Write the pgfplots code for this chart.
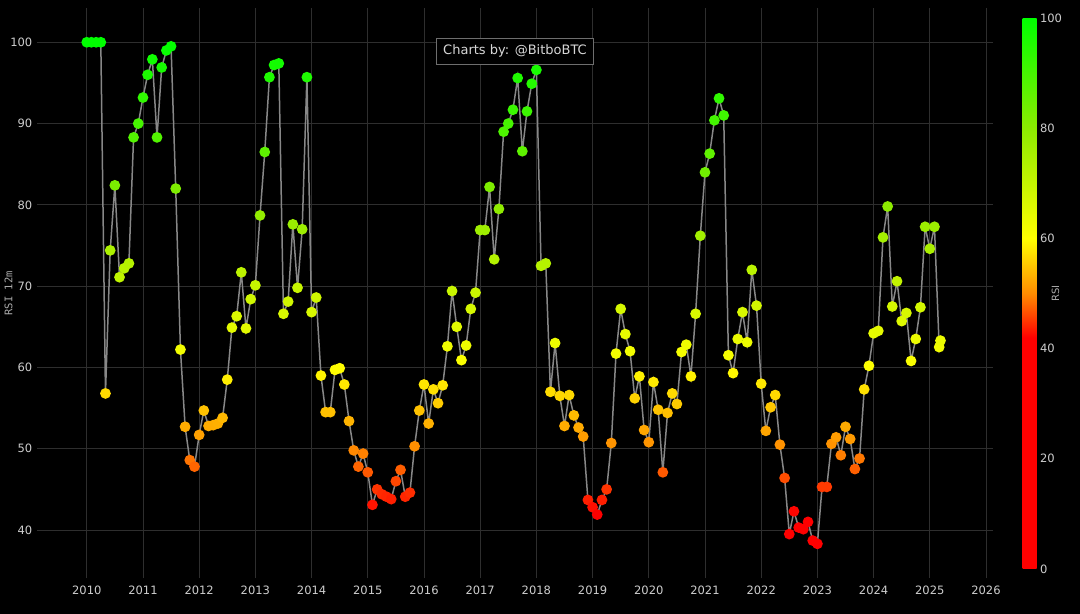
\documentclass[border=0pt]{standalone}
\usepackage{fontspec}
\setmainfont{DejaVu Sans}
\newfontfamily\monofont{DejaVu Sans Mono}
\usepackage{pgfplots}
\usepackage{pgfplotstable}
\pgfplotsset{compat=1.18}
\definecolor{gridc}{RGB}{46,46,46}
\definecolor{tickc}{RGB}{205,205,205}
\definecolor{linec}{RGB}{135,135,135}
\definecolor{boxc}{RGB}{110,110,110}
\definecolor{titc}{RGB}{215,215,215}
\definecolor{ylabc}{RGB}{170,170,170}
\definecolor{baseline}{RGB}{95,95,95}
\pgfplotsset{colormap={rsi}{rgb255(0)=(255,0,0) rgb255(42)=(255,0,0) rgb255(50)=(255,140,0) rgb255(60)=(255,255,0) rgb255(80)=(140,235,0) rgb255(100)=(0,255,0)}}
\pgfplotsset{/pgf/number format/assume math mode=true}
\pgfplotstableread{
x y
2010.000 100.0
2010.083 100.0
2010.167 100.0
2010.250 100.0
2010.333 56.8
2010.417 74.4
2010.500 82.4
2010.583 71.1
2010.667 72.2
2010.750 72.8
2010.833 88.3
2010.917 90.0
2011.000 93.2
2011.083 96.0
2011.167 97.9
2011.250 88.3
2011.333 96.9
2011.417 99.0
2011.500 99.5
2011.583 82.0
2011.667 62.2
2011.750 52.7
2011.833 48.6
2011.917 47.8
2012.000 51.7
2012.083 54.7
2012.167 52.8
2012.250 52.9
2012.333 53.1
2012.417 53.8
2012.500 58.5
2012.583 64.9
2012.667 66.3
2012.750 71.7
2012.833 64.8
2012.917 68.4
2013.000 70.1
2013.083 78.7
2013.167 86.5
2013.250 95.7
2013.333 97.2
2013.417 97.4
2013.500 66.6
2013.583 68.1
2013.667 77.6
2013.750 69.8
2013.833 77.0
2013.917 95.7
2014.000 66.8
2014.083 68.6
2014.167 59.0
2014.250 54.5
2014.333 54.5
2014.417 59.7
2014.500 59.9
2014.583 57.9
2014.667 53.4
2014.750 49.8
2014.833 47.8
2014.917 49.4
2015.000 47.1
2015.083 43.1
2015.167 45.0
2015.250 44.4
2015.333 44.1
2015.417 43.8
2015.500 46.0
2015.583 47.4
2015.667 44.1
2015.750 44.6
2015.833 50.3
2015.917 54.7
2016.000 57.9
2016.083 53.1
2016.167 57.3
2016.250 55.6
2016.333 57.8
2016.417 62.6
2016.500 69.4
2016.583 65.0
2016.667 60.9
2016.750 62.7
2016.833 67.2
2016.917 69.2
2017.000 76.9
2017.083 76.9
2017.167 82.2
2017.250 73.3
2017.333 79.5
2017.417 89.0
2017.500 90.0
2017.583 91.7
2017.667 95.6
2017.750 86.6
2017.833 91.5
2017.917 94.9
2018.000 96.6
2018.083 72.5
2018.167 72.8
2018.250 57.0
2018.333 63.0
2018.417 56.5
2018.500 52.8
2018.583 56.6
2018.667 54.1
2018.750 52.6
2018.833 51.5
2018.917 43.7
2019.000 42.8
2019.083 41.9
2019.167 43.7
2019.250 45.0
2019.333 50.7
2019.417 61.7
2019.500 67.2
2019.583 64.1
2019.667 62.0
2019.750 56.2
2019.833 58.9
2019.917 52.3
2020.000 50.8
2020.083 58.2
2020.167 54.8
2020.250 47.1
2020.333 54.4
2020.417 56.8
2020.500 55.5
2020.583 61.9
2020.667 62.8
2020.750 58.9
2020.833 66.6
2020.917 76.2
2021.000 84.0
2021.083 86.3
2021.167 90.4
2021.250 93.1
2021.333 91.0
2021.417 61.5
2021.500 59.3
2021.583 63.5
2021.667 66.8
2021.750 63.1
2021.833 72.0
2021.917 67.6
2022.000 58.0
2022.083 52.2
2022.167 55.1
2022.250 56.6
2022.333 50.5
2022.417 46.4
2022.500 39.5
2022.583 42.3
2022.667 40.3
2022.750 40.1
2022.833 41.0
2022.917 38.7
2023.000 38.3
2023.083 45.3
2023.167 45.3
2023.250 50.6
2023.333 51.4
2023.417 49.2
2023.500 52.7
2023.583 51.2
2023.667 47.5
2023.750 48.8
2023.833 57.3
2023.917 60.2
2024.000 64.2
2024.083 64.5
2024.167 76.0
2024.250 79.8
2024.333 67.5
2024.417 70.6
2024.500 65.7
2024.583 66.7
2024.667 60.8
2024.750 63.5
2024.833 67.4
2024.917 77.3
2025.000 74.6
2025.083 77.3
2025.167 62.5
2025.190 63.3
}\rsidata
\begin{document}
\begin{tikzpicture}
\useasboundingbox (0,0) rectangle (1080bp,614bp);
\fill[black] (0,0) rectangle (1080bp,614bp);
\draw[baseline, line width=1bp] (0,8bp) -- (1080bp,8bp);
\begin{axis}[
  at={(37.3bp,35.7bp)}, anchor=south west,
  scale only axis, width=956bp, height=570bp,
  xmin=2009.12, xmax=2026.13, ymin=34.06, ymax=104.18,
  xtick={2010,2011,...,2026}, ytick={40,50,...,100},
  grid=major, grid style={draw=gridc, line width=0.8bp},
  axis line style={draw=none},
  major tick length=0pt,
  tick label style={color=tickc, font=\fontsize{11.5bp}{13bp}\selectfont},
  xticklabel style={yshift=-4.5bp, /pgf/number format/1000 sep={}},
  yticklabel style={xshift=-1.5bp},
  ylabel={RSI 12m},
  ylabel style={at={(axis description cs:-0.03,0.5)}, anchor=center, color=ylabc, font=\monofont\fontsize{10.5bp}{12bp}\selectfont},
  colormap name=rsi, point meta min=0, point meta max=100,
  colorbar,
  colorbar style={
    at={(parent axis.north east)}, anchor=north west, xshift=20.7bp, yshift=-9.7bp,
    scale only axis, width=14bp, height=551bp,
    ymin=0, ymax=100, ytick={0,20,...,100},
    axis line style={draw=none}, major tick length=0pt,
    yticklabel style={color=tickc, font=\fontsize{11.5bp}{13bp}\selectfont},
    ylabel={RSI},
    ylabel style={at={(axis description cs:2.36,0.5)}, anchor=center, color=ylabc, font=\fontsize{10bp}{12bp}\selectfont},
  },
]
\addplot[scatter, draw=linec, line width=1.5bp, mark=*, mark size=4.6bp, point meta=y,
  scatter/use mapped color={draw=mapped color, fill=mapped color}] table[x=x, y=y] {\rsidata};
\end{axis}
\node[draw=boxc, fill=black, text=titc, line width=0.8bp, font=\fontsize{13bp}{15bp}\selectfont, minimum width=157bp, minimum height=26bp, inner sep=0pt] at (515bp,563bp) {Charts by: @BitboBTC};
\end{tikzpicture}
\end{document}
